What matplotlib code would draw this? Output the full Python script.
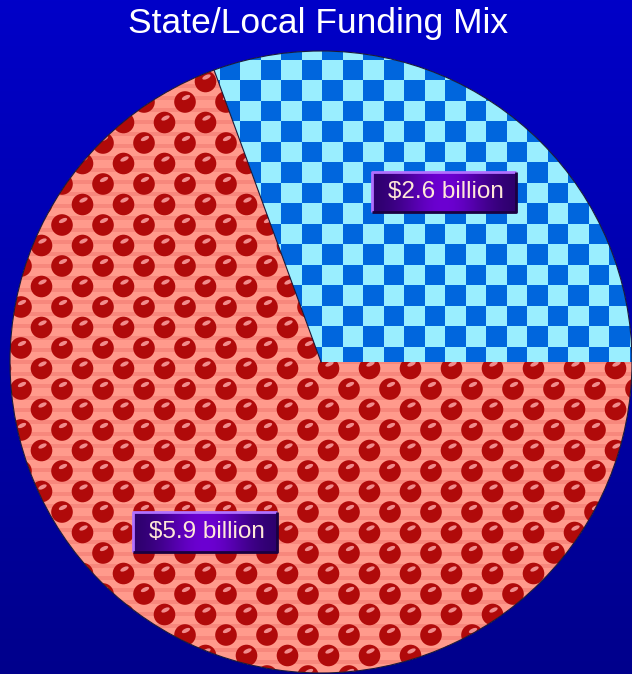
import numpy as np
import matplotlib.pyplot as plt
from matplotlib.patches import Circle, Ellipse
from matplotlib.collections import PatchCollection

plt.rcParams['font.family'] = ['Liberation Sans', 'DejaVu Sans']

W, H = 632, 674
title = 'State/Local Funding Mix'
values = [2.6, 5.9]
labels = ['$2.6 billion', '$5.9 billion']
label_xy = [(444, 192), (205, 532)]  # pixels from top-left

fig = plt.figure(figsize=(W / 100, H / 100), dpi=100)
ax = fig.add_axes([0, 0, 1, 1])

# background gradient
top = np.array([0, 0, 200]) / 255
bot = np.array([0, 0, 140]) / 255
t = np.linspace(0, 1, 256)[:, None, None]
ax.imshow(top + (bot - top) * t, extent=[0, W, 0, H], aspect='auto',
          origin='upper', zorder=0)

cx, cy, r = 321, H - 362, 311
wedges, _ = ax.pie(values, startangle=0, counterclock=True, center=(cx, cy),
                   radius=r, colors=['#9aeeff', '#ff9a8c'],
                   wedgeprops=dict(linewidth=0, zorder=1), frame=True)

# checkerboard on the small slice
cell = 20.5
x0 = 15 - cell * 2
y0 = 265 - cell * 14
nx = int(W / cell) + 6
ny = int(H / cell) + 6
ii, jj = np.meshgrid(np.arange(nx), np.arange(ny))
chk = ((ii + jj) % 2).astype(float)
cmap = plt.matplotlib.colors.ListedColormap(['#0066dd', '#9aeeff'])
im = ax.imshow(chk, cmap=cmap, interpolation='nearest', origin='upper',
               extent=[x0, x0 + nx * cell, H - (y0 + ny * cell), H - y0],
               zorder=2)
im.set_clip_path(wedges[0])

# faint banding on the salmon slice
rows = np.arange(H)
band = np.where((rows // 4) % 3 == 0, 1.0, 0.0)[:, None]
bcmap = plt.matplotlib.colors.ListedColormap(['#ff9a8c', '#f7877c'])
bim = ax.imshow(band, cmap=bcmap, extent=[0, W, 0, H], aspect='auto',
                origin='upper', interpolation='nearest', zorder=2)
bim.set_clip_path(wedges[1])

# red dots
dots, shines = [], []
dy, dxs = 20.5, 41
yy = 307 - dy * 16
k = 0
while yy < H + 20:
    xs = 21 + (dxs / 2 if k % 2 else 0) - dxs
    while xs < W + 20:
        dots.append(Circle((xs, H - yy), 10.8))
        shines.append(Ellipse((xs + 1, H - yy + 4.5), 9, 4, angle=25))
        xs += dxs
    yy += dy
    k += 1
pc = PatchCollection(dots, facecolor='#b00a0a', edgecolor='none', zorder=3)
pc.set_clip_path(wedges[1])
ax.add_collection(pc)
sc = PatchCollection(shines, facecolor='#f08c8c', edgecolor='none', zorder=4)
sc.set_clip_path(wedges[1])
ax.add_collection(sc)

# outlines: outer rim and the upper slice border only
ax.add_patch(Circle((cx, cy), r, fill=False, ec='#1a1a3a', lw=0.8, zorder=5))
a = np.deg2rad(wedges[0].theta2)
ax.plot([cx, cx + r * np.cos(a)], [cy, cy + r * np.sin(a)],
        color='#1a1a3a', lw=0.8, zorder=5)

# label boxes
bw, bh = 144, 40
g = np.linspace(-1, 1, 200)
prof = np.exp(-(g * 1.6) ** 2)
dark = np.array([40, 0, 100]) / 255
bright = np.array([108, 0, 210]) / 255
box_img = (dark + (bright - dark) * prof[:, None])[None, :, :]
for (lx, ly), txt in zip(label_xy, labels):
    x1, y1 = lx - bw / 2, H - ly - bh / 2
    ax.imshow(box_img, extent=[x1, x1 + bw, y1, y1 + bh], aspect='auto',
              zorder=6)
    ax.plot([x1, x1, x1 + bw], [y1, y1 + bh, y1 + bh], color='#b070ff',
            lw=2, zorder=7, solid_capstyle='butt')
    ax.plot([x1, x1 + bw, x1 + bw], [y1, y1, y1 + bh], color='#1a0040',
            lw=2, zorder=7, solid_capstyle='butt')
    ax.text(lx + 2, H - ly, txt, ha='center', va='center', fontsize=17.5,
            color='#ffe8d8', zorder=8)

ax.text(W / 2 + 2, H - 23, title, ha='center', va='center', fontsize=25.5,
        color='white', zorder=8)

ax.set_xlim(0, W)
ax.set_ylim(0, H)
ax.set_aspect('auto')
ax.axis('off')
fig.savefig('out.png', dpi=100)
